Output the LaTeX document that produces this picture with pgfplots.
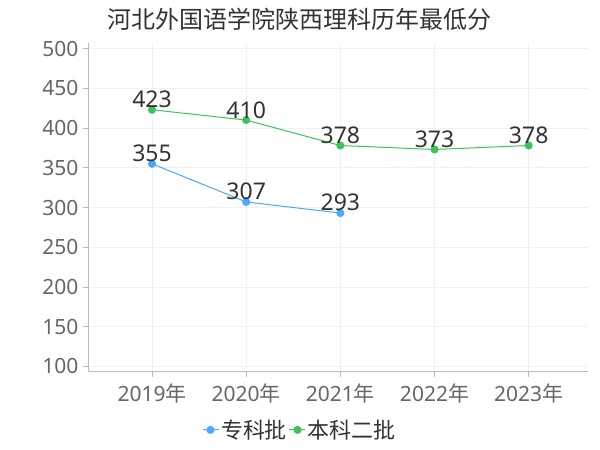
\documentclass[border=0pt]{standalone}
\usepackage{pgfplots}
\pgfplotsset{compat=1.18}
\usepackage{fontspec}
\setmainfont{Noto Sans}
\newfontfamily\cjk{Noto Sans CJK SC}
\definecolor{cblue}{HTML}{4DA6FF}
\definecolor{cgreen}{HTML}{3CC35A}
\definecolor{tgray}{HTML}{666666}
\definecolor{dgray}{HTML}{333333}
\definecolor{agray}{HTML}{BBBBBB}
\definecolor{ggray}{HTML}{F0F0F0}
\begin{document}
\begin{tikzpicture}[x=1pt,y=1pt]
\useasboundingbox (0,0) rectangle (600,450);
\node[anchor=west,text=dgray,font=\cjk\fontsize{24}{28}\selectfont,inner sep=0] at (107,431) {河北外国语学院陕西理科历年最低分};
\begin{axis}[
  at={(88pt,78pt)}, anchor=south west,
  scale only axis, width=500pt, height=329pt,
  xmin=-0.68, xmax=4.63, ymin=93, ymax=507,
  axis x line*=bottom, axis y line*=left,
  axis line style={agray, line width=1pt},
  xtick={0,1,2,3,4},
  xticklabels={2019{\cjk 年},2020{\cjk 年},2021{\cjk 年},2022{\cjk 年},2023{\cjk 年}},
  ytick={100,150,...,500},
  grid=major, major grid style={ggray, line width=0.8pt},
  tick style={agray, line width=0.8pt},
  tick align=outside, major tick length=5pt,
  ticklabel style={text=tgray, font=\fontsize{21}{24}\selectfont},
  /pgf/number format/assume math mode=true,
  yticklabel style={xshift=-1pt},
  xticklabel style={yshift=-3pt},
  clip=false,
  nodes near coords,
  every node near coord/.append style={text=dgray, font=\fontsize{23}{26}\selectfont, anchor=south, yshift=-2pt},
  legend columns=2,
  legend style={draw=none, fill=none, at={(0.424,-0.176)}, anchor=center,
    font=\cjk\fontsize{22}{25}\selectfont, text=dgray,
    /tikz/every even column/.append style={column sep=0pt},
    inner sep=0pt},
  legend image code/.code={\draw[mark repeat=2,mark phase=2,#1] plot coordinates {(0pt,0pt)(8pt,0pt)(16pt,0pt)};},
]
\addplot[cblue, line width=1pt, mark=*, mark size=3.5pt, mark options={fill=cblue, draw=cblue}] coordinates {(0,355)(1,307)(2,293)};
\addlegendentry{专科批}
\addplot[cgreen, line width=1pt, mark=*, mark size=3.5pt, mark options={fill=cgreen, draw=cgreen}] coordinates {(0,423)(1,410)(2,378)(3,373)(4,378)};
\addlegendentry{本科二批}
\end{axis}
\end{tikzpicture}
\end{document}
